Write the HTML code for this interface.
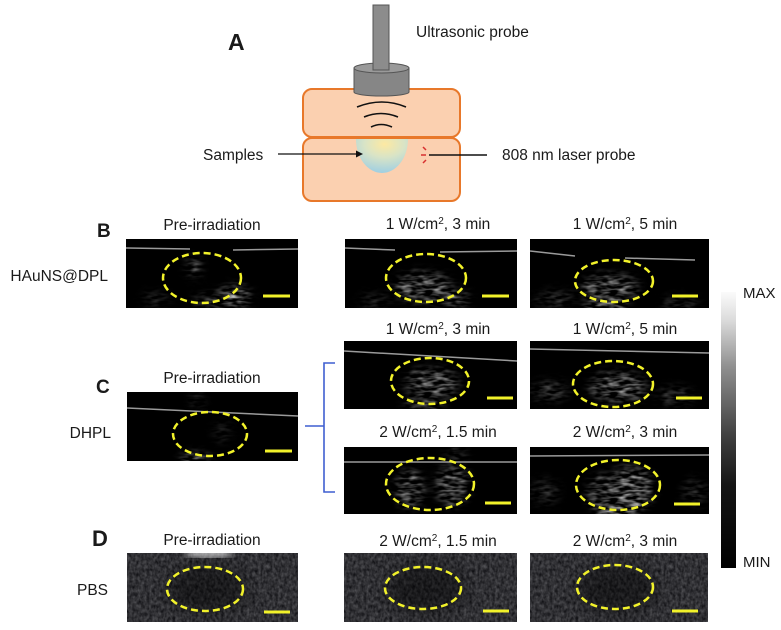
<!DOCTYPE html>
<html><head><meta charset="utf-8"><style>
html,body{margin:0;padding:0;background:#fff;}
svg{display:block;}
text{font-family:"Liberation Sans",Arial,sans-serif;fill:#1a1a1a;}
</style></head><body>
<svg width="781" height="630" viewBox="0 0 781 630" xmlns="http://www.w3.org/2000/svg">
<defs>
 <radialGradient id="samp" cx="0.55" cy="0.15" r="0.85">
  <stop offset="0" stop-color="#fde9a2"/>
  <stop offset="0.45" stop-color="#d9e4c6"/>
  <stop offset="1" stop-color="#9fcfe2"/>
 </radialGradient>
 <linearGradient id="cbar" x1="0" y1="0" x2="0" y2="1">
  <stop offset="0" stop-color="#fbfbfb"/>
  <stop offset="0.1" stop-color="#dcdcdc"/>
  <stop offset="0.27" stop-color="#909090"/>
  <stop offset="0.52" stop-color="#404040"/>
  <stop offset="0.7" stop-color="#151515"/>
  <stop offset="1" stop-color="#000"/>
 </linearGradient>
 <filter id="tex" x="-50%" y="-50%" width="200%" height="200%" color-interpolation-filters="sRGB">
  <feGaussianBlur in="SourceGraphic" stdDeviation="5" result="b"/>
  <feTurbulence type="fractalNoise" baseFrequency="0.09 0.3" numOctaves="2" seed="7" result="n"/>
  <feColorMatrix in="n" type="matrix" values="0 0 0 0 1  0 0 0 0 1  0 0 0 0 1  0 0 0 2.0 -0.75" result="nw"/>
  <feComposite in="b" in2="nw" operator="in"/>
 </filter>
 <filter id="dtex" x="0" y="0" width="100%" height="100%" color-interpolation-filters="sRGB">
  <feTurbulence type="fractalNoise" baseFrequency="0.35 0.25" numOctaves="2" seed="3" result="n"/>
  <feColorMatrix in="n" type="matrix" values="0.34 0 0 0 0.02  0.34 0 0 0 0.02  0.34 0 0 0 0.035  0 0 0 0 1"/>
 </filter>
 <filter id="blur4" color-interpolation-filters="sRGB"><feGaussianBlur stdDeviation="4"/></filter>
 <filter id="blur8" x="-50%" y="-50%" width="200%" height="200%" color-interpolation-filters="sRGB"><feGaussianBlur stdDeviation="8"/></filter>
</defs>

<!-- ===== Panel A ===== -->
<text x="228" y="50" font-size="23" font-weight="bold">A</text>
<text x="416" y="37" font-size="15.5">Ultrasonic probe</text>
<rect x="303" y="89" width="157" height="48" rx="9" fill="#fbd0b0" stroke="#e8782a" stroke-width="2"/>
<rect x="303" y="138" width="157" height="63" rx="9" fill="#fbd0b0" stroke="#e8782a" stroke-width="2"/>
<path d="M354,68 L354,92 A27.5,4 0 0 0 409,92 L409,68 Z" fill="#868686" stroke="#555" stroke-width="1"/>
<ellipse cx="381.5" cy="68" rx="27.5" ry="5" fill="#9a9a9a" stroke="#555" stroke-width="1"/>
<rect x="373" y="5" width="16" height="65" fill="#8c8c8c" stroke="#555" stroke-width="1"/>
<path d="M357,107 Q382,97 406,107" fill="none" stroke="#111" stroke-width="1.6"/>
<path d="M364,117 Q381,110 398,117" fill="none" stroke="#111" stroke-width="1.6"/>
<path d="M371,127 Q381,122 392,127" fill="none" stroke="#111" stroke-width="1.6"/>
<path d="M356,139 A26,34 0 0 0 408,139 Z" fill="url(#samp)"/>
<text x="203" y="160" font-size="15.5">Samples</text>
<line x1="278" y1="154" x2="358" y2="154" stroke="#111" stroke-width="1.3"/>
<path d="M363,154 L356,150.5 L356,157.5 Z" fill="#111"/>
<path d="M423,147 L426,150 M421,155 L426,155 M423,163 L426,160" stroke="#d83030" stroke-width="1.5" fill="none"/>
<line x1="429" y1="155" x2="487" y2="155" stroke="#111" stroke-width="1.6"/>
<text x="502" y="160" font-size="15.5">808 nm  laser probe</text>

<!-- ===== Row labels ===== -->
<text x="97" y="237" font-size="19" font-weight="bold">B</text>
<text x="108" y="281" font-size="15.5" text-anchor="end">HAuNS@DPL</text>
<text x="96" y="393" font-size="19" font-weight="bold">C</text>
<text x="111" y="438" font-size="15.5" text-anchor="end">DHPL</text>
<text x="92" y="546" font-size="22" font-weight="bold">D</text>
<text x="108" y="595" font-size="15.5" text-anchor="end">PBS</text>

<!-- ===== Titles ===== -->
<text x="212" y="230" font-size="15.5" text-anchor="middle">Pre-irradiation</text>
<text x="438" y="229" font-size="15.5" text-anchor="middle">1 W/cm<tspan dy="-5" font-size="10">2</tspan><tspan dy="5">, 3 min</tspan></text>
<text x="625" y="229" font-size="15.5" text-anchor="middle">1 W/cm<tspan dy="-5" font-size="10">2</tspan><tspan dy="5">, 5 min</tspan></text>

<text x="438" y="334" font-size="15.5" text-anchor="middle">1 W/cm<tspan dy="-5" font-size="10">2</tspan><tspan dy="5">, 3 min</tspan></text>
<text x="625" y="334" font-size="15.5" text-anchor="middle">1 W/cm<tspan dy="-5" font-size="10">2</tspan><tspan dy="5">, 5 min</tspan></text>
<text x="212" y="383" font-size="15.5" text-anchor="middle">Pre-irradiation</text>
<text x="438" y="437" font-size="15.5" text-anchor="middle">2 W/cm<tspan dy="-5" font-size="10">2</tspan><tspan dy="5">, 1.5 min</tspan></text>
<text x="625" y="437" font-size="15.5" text-anchor="middle">2 W/cm<tspan dy="-5" font-size="10">2</tspan><tspan dy="5">, 3 min</tspan></text>

<text x="212" y="545" font-size="15.5" text-anchor="middle">Pre-irradiation</text>
<text x="438" y="546" font-size="15.5" text-anchor="middle">2 W/cm<tspan dy="-5" font-size="10">2</tspan><tspan dy="5">, 1.5 min</tspan></text>
<text x="625" y="546" font-size="15.5" text-anchor="middle">2 W/cm<tspan dy="-5" font-size="10">2</tspan><tspan dy="5">, 3 min</tspan></text>

<!-- ===== Bracket ===== -->
<path d="M335,363 L324,363 L324,492 L335,492 M305,426 L324,426" fill="none" stroke="#3f5fd0" stroke-width="1.6"/>

<!-- ===== Colorbar ===== -->
<rect x="721" y="292" width="15" height="276" fill="url(#cbar)"/>
<text x="743" y="298" font-size="15">MAX</text>
<text x="743" y="567" font-size="15">MIN</text>

<!-- ===== Images ===== -->
<svg x="126" y="239" width="172" height="69">
 <rect width="172" height="69" fill="#000"/>
 <g filter="url(#tex)" fill="#d0d0d0">
  <ellipse cx="108" cy="58" rx="16" ry="10"/>
  <ellipse cx="68" cy="28" rx="6" ry="10" fill="#8a8a8a"/>
  <ellipse cx="30" cy="60" rx="14" ry="6" fill="#444"/>
  <ellipse cx="85" cy="62" rx="18" ry="6" fill="#777"/>
 </g>
 <path d="M0,9 L64,10 M107,11 L172,10" stroke="#9a9a9a" stroke-width="1.5" fill="none"/>
 <ellipse cx="76" cy="39" rx="39" ry="25" fill="none" stroke="#f2f22a" stroke-width="2.5" stroke-dasharray="7 4"/>
 <line x1="137" y1="57" x2="164" y2="57" stroke="#f2f22a" stroke-width="3"/>
</svg>
<svg x="345" y="239" width="172" height="69">
 <rect width="172" height="69" fill="#000"/>
 <g filter="url(#tex)" fill="#b0b0b0">
  <ellipse cx="78" cy="48" rx="28" ry="14"/>
  <ellipse cx="110" cy="60" rx="14" ry="8" fill="#999"/>
  <ellipse cx="30" cy="62" rx="16" ry="6" fill="#444"/>
 </g>
 <path d="M0,9 L50,11 M95,13 L172,12" stroke="#9a9a9a" stroke-width="1.5" fill="none"/>
 <ellipse cx="81" cy="39" rx="40" ry="24" fill="none" stroke="#f2f22a" stroke-width="2.5" stroke-dasharray="7 4"/>
 <line x1="137" y1="57" x2="164" y2="57" stroke="#f2f22a" stroke-width="3"/>
</svg>
<svg x="530" y="239" width="179" height="69">
 <rect width="179" height="69" fill="#000"/>
 <g filter="url(#tex)" fill="#b0b0b0">
  <ellipse cx="80" cy="48" rx="28" ry="12"/>
  <ellipse cx="75" cy="68" rx="22" ry="6" fill="#eee"/>
  <ellipse cx="25" cy="60" rx="20" ry="7" fill="#555"/>
  <ellipse cx="150" cy="65" rx="18" ry="6" fill="#555"/>
 </g>
 <path d="M0,12 L45,17 M95,19 L165,21" stroke="#9a9a9a" stroke-width="1.5" fill="none"/>
 <ellipse cx="84" cy="42" rx="39" ry="21" fill="none" stroke="#f2f22a" stroke-width="2.5" stroke-dasharray="7 4"/>
 <line x1="142" y1="57" x2="168" y2="57" stroke="#f2f22a" stroke-width="3"/>
</svg>

<svg x="127" y="392" width="171" height="69">
 <rect width="171" height="69" fill="#000"/>
 <g filter="url(#tex)" fill="#aaa">
  <ellipse cx="68" cy="68" rx="14" ry="5" fill="#fff"/>
  <ellipse cx="70" cy="8" rx="6" ry="8" fill="#444"/>
  <ellipse cx="95" cy="40" rx="8" ry="10" fill="#333"/>
 </g>
 <path d="M0,16 L171,24" stroke="#9a9a9a" stroke-width="1.5" fill="none"/>
 <ellipse cx="83" cy="42" rx="37" ry="22" fill="none" stroke="#f2f22a" stroke-width="2.5" stroke-dasharray="7 4"/>
 <line x1="138" y1="59" x2="165" y2="59" stroke="#f2f22a" stroke-width="3"/>
</svg>
<svg x="344" y="341" width="173" height="68">
 <rect width="173" height="68" fill="#000"/>
 <g filter="url(#tex)" fill="#b0b0b0">
  <ellipse cx="88" cy="42" rx="26" ry="14"/>
  <ellipse cx="80" cy="64" rx="20" ry="6" fill="#888"/>
 </g>
 <path d="M0,10 L173,20" stroke="#9a9a9a" stroke-width="1.5" fill="none"/>
 <ellipse cx="86" cy="40" rx="39" ry="23" fill="none" stroke="#f2f22a" stroke-width="2.5" stroke-dasharray="7 4"/>
 <line x1="143" y1="57" x2="169" y2="57" stroke="#f2f22a" stroke-width="3"/>
</svg>
<svg x="530" y="341" width="179" height="68">
 <rect width="179" height="68" fill="#000"/>
 <g filter="url(#tex)" fill="#b0b0b0">
  <ellipse cx="88" cy="46" rx="28" ry="14"/>
  <ellipse cx="20" cy="50" rx="18" ry="9" fill="#666"/>
  <ellipse cx="145" cy="55" rx="18" ry="8" fill="#555"/>
 </g>
 <path d="M0,8 L179,12" stroke="#9a9a9a" stroke-width="1.5" fill="none"/>
 <ellipse cx="83" cy="43" rx="40" ry="23" fill="none" stroke="#f2f22a" stroke-width="2.5" stroke-dasharray="7 4"/>
 <line x1="146" y1="57" x2="172" y2="57" stroke="#f2f22a" stroke-width="3"/>
</svg>
<svg x="344" y="447" width="173" height="67">
 <rect width="173" height="67" fill="#000"/>
 <g filter="url(#tex)" fill="#a0a0a0">
  <ellipse cx="66" cy="42" rx="14" ry="18"/>
  <ellipse cx="108" cy="38" rx="16" ry="20"/>
  <ellipse cx="112" cy="6" rx="10" ry="6" fill="#666"/>
 </g>
 <path d="M0,15 L173,15" stroke="#9a9a9a" stroke-width="1.5" fill="none"/>
 <ellipse cx="86" cy="37" rx="44" ry="26" fill="none" stroke="#f2f22a" stroke-width="2.5" stroke-dasharray="7 4"/>
 <line x1="141" y1="56" x2="167" y2="56" stroke="#f2f22a" stroke-width="3"/>
</svg>
<svg x="530" y="447" width="179" height="67">
 <rect width="179" height="67" fill="#000"/>
 <g filter="url(#tex)" fill="#c8c8c8">
  <ellipse cx="100" cy="42" rx="22" ry="22"/>
  <ellipse cx="72" cy="45" rx="14" ry="16" fill="#999"/>
  <ellipse cx="85" cy="66" rx="20" ry="6" fill="#fff"/>
  <ellipse cx="15" cy="45" rx="14" ry="12" fill="#444"/>
  <ellipse cx="165" cy="45" rx="12" ry="12" fill="#444"/>
 </g>
 <path d="M0,9 L179,8" stroke="#9a9a9a" stroke-width="1.5" fill="none"/>
 <ellipse cx="88" cy="38" rx="42" ry="25" fill="none" stroke="#f2f22a" stroke-width="2.5" stroke-dasharray="7 4"/>
 <line x1="144" y1="57" x2="170" y2="57" stroke="#f2f22a" stroke-width="3"/>
</svg>

<svg x="127" y="553" width="171" height="69">
 <rect width="171" height="69" filter="url(#dtex)"/>
 <ellipse cx="80" cy="36" rx="40" ry="24" fill="#000" opacity="0.45" filter="url(#blur8)"/>
 <ellipse cx="82" cy="0" rx="25" ry="4" fill="#fff" opacity="0.8" filter="url(#blur4)"/>
 <ellipse cx="78" cy="36" rx="38" ry="22" fill="none" stroke="#f2f22a" stroke-width="2.5" stroke-dasharray="7 4"/>
 <line x1="137" y1="59" x2="163" y2="59" stroke="#f2f22a" stroke-width="3"/>
</svg>
<svg x="344" y="553" width="173" height="69">
 <rect width="173" height="69" filter="url(#dtex)"/>
 <ellipse cx="82" cy="36" rx="40" ry="24" fill="#000" opacity="0.45" filter="url(#blur8)"/>
 <ellipse cx="79" cy="35" rx="38" ry="21" fill="none" stroke="#f2f22a" stroke-width="2.5" stroke-dasharray="7 4"/>
 <line x1="139" y1="58" x2="165" y2="58" stroke="#f2f22a" stroke-width="3"/>
</svg>
<svg x="530" y="553" width="178" height="69">
 <rect width="178" height="69" filter="url(#dtex)"/>
 <ellipse cx="87" cy="36" rx="40" ry="24" fill="#000" opacity="0.45" filter="url(#blur8)"/>
 <ellipse cx="85" cy="34" rx="38" ry="22" fill="none" stroke="#f2f22a" stroke-width="2.5" stroke-dasharray="7 4"/>
 <line x1="142" y1="58" x2="168" y2="58" stroke="#f2f22a" stroke-width="3"/>
</svg>
</svg>
</body></html>
